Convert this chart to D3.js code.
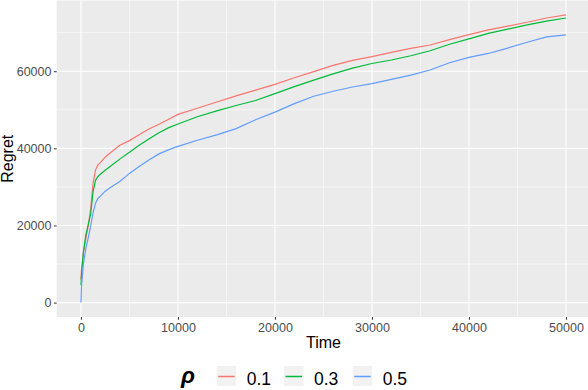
<!DOCTYPE html>
<html>
<head>
<meta charset="utf-8">
<script src="https://cdn.jsdelivr.net/npm/d3@7"></script>
<style>
  body { margin: 0; background: #fff; }
  svg { display: block; font-family: "Liberation Sans", Arial, sans-serif; }
  .axis text { fill: #4D4D4D; font-size: 12.5px; }
  .axis line { stroke: #333333; }
</style>
</head>
<body>
<div class="chart"></div>
<script>
"use strict";

// time points shared by all series
const times = [0, 50, 250, 500, 750, 1000, 1250, 1500, 1750, 2000, 2500, 3000, 4000, 5000,
  6000, 7000, 8000, 9000, 10000, 12000, 14000, 16000, 18000, 20000, 22000, 24000,
  26000, 28000, 30000, 32000, 34000, 36000, 38000, 40000, 42000, 44000, 46000, 48000, 50000];

const rho01 = [6000, 8500, 13000, 16500, 19800, 24300, 31000, 34400, 35700, 36300, 37700, 38800, 40800, 42000,
  43500, 45000, 46200, 47500, 48800, 50400, 52000, 53600, 55100, 56600, 58300, 59900,
  61500, 62800, 63800, 64900, 65900, 66800, 68200, 69500, 70700, 71700, 72700, 73800, 74600];

const rho03 = [4500, 7000, 13000, 17500, 20200, 23000, 28800, 31700, 32700, 33300, 34300, 35300, 37200, 39000,
  40800, 42400, 44000, 45300, 46300, 48200, 49700, 51100, 52400, 54200, 56000, 57700,
  59300, 60800, 62000, 62900, 64000, 65300, 67000, 68400, 69800, 70900, 72000, 73000, 73800];

const rho05 = [0, 4000, 10000, 14000, 16800, 19800, 23300, 25800, 27000, 27600, 28900, 29800, 31400, 33500,
  35300, 37000, 38500, 39600, 40500, 42100, 43500, 45100, 47400, 49400, 51600, 53500,
  54800, 55900, 56800, 57900, 59000, 60300, 62200, 63600, 64600, 66000, 67500, 68900, 69400];

const seriesNames = ["0.1", "0.3", "0.5"];
const seriesColors = ["#F8766D", "#00BA38", "#619CFF"];
const xTicks = [0, 10000, 20000, 30000, 40000, 50000];
const yTicks = [0, 20000, 40000, 60000];

const series = [rho01, rho03, rho05].map((vals, i) => ({
  name: seriesNames[i],
  color: seriesColors[i],
  values: times.map((t, j) => ({ t, v: vals[j] }))
}));

const width = 588;
const height = 390;
const panel = { left: 56.7, right: 590.2, top: 0.5, bottom: 317 };

const svg = d3.select(".chart")
  .append("svg")
    .attr("width", width)
    .attr("height", height);

// ggplot style 5% expansion
const xMax = d3.max(times);
const yMax = d3.max(series, s => d3.max(s.values, d => d.v));
const xScale = d3.scaleLinear()
  .domain([-0.05 * xMax, xMax * 1.05])
  .range([panel.left, panel.right]);
const yScale = d3.scaleLinear()
  .domain([-0.05 * yMax, yMax * 1.05])
  .range([panel.bottom, panel.top]);

// panel background
svg.append("rect")
  .attr("x", panel.left)
  .attr("y", panel.top)
  .attr("width", panel.right - panel.left)
  .attr("height", panel.bottom - panel.top)
  .attr("fill", "#EBEBEB");

// minor grid
const xMinor = d3.range(5000, 50000, 10000);
const yMinor = d3.range(10000, 80000, 20000).filter(v => yScale(v) > panel.top);

svg.append("g")
  .selectAll("line")
  .data(xMinor)
  .join("line")
    .attr("x1", d => xScale(d)).attr("x2", d => xScale(d))
    .attr("y1", panel.top).attr("y2", panel.bottom)
    .attr("stroke", "#fff").attr("stroke-width", 0.55);

svg.append("g")
  .selectAll("line")
  .data(yMinor)
  .join("line")
    .attr("x1", panel.left).attr("x2", panel.right)
    .attr("y1", d => yScale(d)).attr("y2", d => yScale(d))
    .attr("stroke", "#fff").attr("stroke-width", 0.55);

// major grid
svg.append("g")
  .selectAll("line")
  .data(xTicks)
  .join("line")
    .attr("x1", d => xScale(d)).attr("x2", d => xScale(d))
    .attr("y1", panel.top).attr("y2", panel.bottom)
    .attr("stroke", "#fff").attr("stroke-width", 1.1);

svg.append("g")
  .selectAll("line")
  .data(yTicks)
  .join("line")
    .attr("x1", panel.left).attr("x2", panel.right)
    .attr("y1", d => yScale(d)).attr("y2", d => yScale(d))
    .attr("stroke", "#fff").attr("stroke-width", 1.1);

// lines
const line = d3.line()
  .x(d => xScale(d.t))
  .y(d => yScale(d.v));

svg.append("g")
  .selectAll("path")
  .data(series)
  .join("path")
    .attr("d", d => line(d.values))
    .attr("fill", "none")
    .attr("stroke", d => d.color)
    .attr("stroke-width", 1.2);

// axes
const xAxis = d3.axisBottom(xScale)
  .tickValues(xTicks)
  .tickFormat(d3.format("d"))
  .tickSize(2.75)
  .tickPadding(3);

const yAxis = d3.axisLeft(yScale)
  .tickValues(yTicks)
  .tickFormat(d3.format("d"))
  .tickSize(2.75)
  .tickPadding(2.5);

svg.append("g")
  .attr("class", "axis")
  .attr("transform", `translate(0, ${panel.bottom})`)
  .call(xAxis)
  .call(g => g.select(".domain").remove());

svg.append("g")
  .attr("class", "axis")
  .attr("transform", `translate(${panel.left}, 0)`)
  .call(yAxis)
  .call(g => g.select(".domain").remove());

// axis titles
svg.append("text")
  .attr("x", (panel.left + panel.right) / 2)
  .attr("y", 347.5)
  .attr("text-anchor", "middle")
  .attr("font-size", 16)
  .attr("fill", "#000")
  .text("Time");

svg.append("text")
  .attr("transform", `translate(12.5, ${(panel.top + panel.bottom) / 2}) rotate(-90)`)
  .attr("text-anchor", "middle")
  .attr("font-size", 16)
  .attr("fill", "#000")
  .text("Regret");

// legend
const legend = svg.append("g");

legend.append("text")
  .attr("x", 181)
  .attr("y", 383)
  .attr("font-size", 23)
  .attr("font-style", "italic")
  .attr("font-weight", "bold")
  .attr("fill", "#000")
  .text("ρ");

const keyX = [216.7, 284, 352.7];
const keys = legend.selectAll("g.key")
  .data(series)
  .join("g")
    .attr("class", "key")
    .attr("transform", (d, i) => `translate(${keyX[i]}, 366)`);

keys.append("rect")
  .attr("width", 19.5)
  .attr("height", 20)
  .attr("fill", "#F2F2F2");

keys.append("line")
  .attr("x1", 1.5).attr("x2", 18)
  .attr("y1", 10.5).attr("y2", 10.5)
  .attr("stroke", d => d.color)
  .attr("stroke-width", 1.5);

keys.append("text")
  .attr("x", 30)
  .attr("y", 18.5)
  .attr("font-size", 17.5)
  .attr("fill", "#000")
  .text(d => d.name);
</script>
</body>
</html>
